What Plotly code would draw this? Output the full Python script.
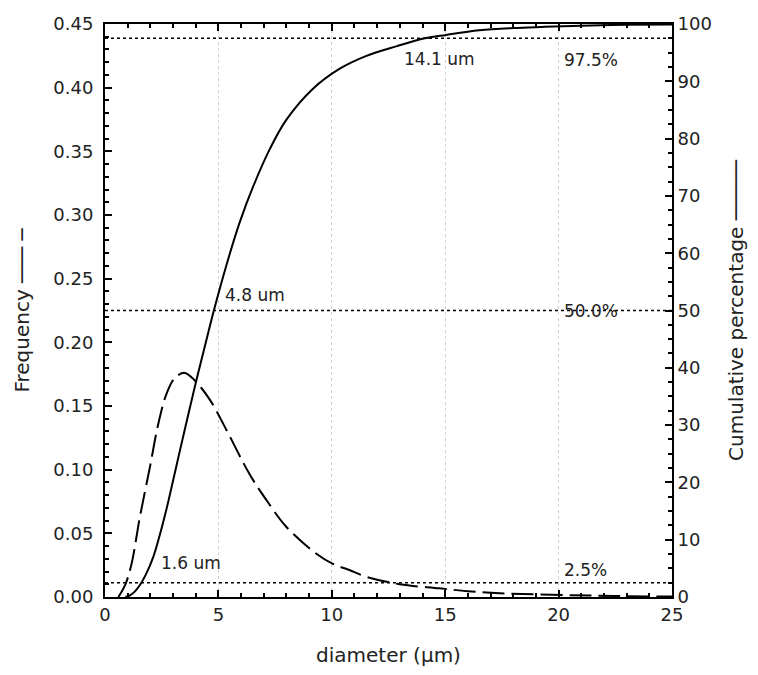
import plotly.graph_objects as go

# cumulative percentage curve (solid, right axis)
cum_x = [0.9, 1.1, 1.3, 1.54, 1.8, 2.13, 2.4, 2.72, 3.0, 3.3, 3.74, 4.04, 4.48, 4.8, 5.36, 5.95, 6.53,
         7.27, 8.0, 9.17, 10.35, 11.5, 12.84, 14.1, 15.04, 16.5, 18.0, 19.4, 21.0, 23.0, 25.0]
cum_y = [0.0, 0.3, 0.9, 2.1, 3.9, 7.0, 10.6, 15.5, 20.3, 25.5, 33.0, 38.0, 45.0, 50.0, 58.0, 65.5, 71.6,
         78.2, 83.3, 88.7, 92.2, 94.4, 96.1, 97.5, 98.1, 98.9, 99.3, 99.5, 99.7, 99.85, 99.9]

# frequency curve (dashed, left axis)
freq_x = [0.59, 0.9, 1.17, 1.54, 1.98, 2.35, 2.72, 3.08, 3.52, 3.96, 4.62, 5.36, 6.39, 7.2, 8.0, 9.32,
          10.05, 10.8, 11.5, 13.0, 14.75, 16.0, 17.4, 20.3, 22.5, 25.0]
freq_y = [0.0, 0.010, 0.026, 0.063, 0.102, 0.136, 0.160, 0.172, 0.176, 0.170, 0.155, 0.131, 0.096, 0.074,
          0.055, 0.034, 0.026, 0.021, 0.016, 0.010, 0.0068, 0.0045, 0.003, 0.0015, 0.0008, 0.0003]

# percentile reference lines (right axis)
ref_pct = [2.5, 50.0, 97.5]
ref_labels = ["2.5%", "50.0%", "97.5%"]
ref_diam_labels = ["1.6 um", "4.8 um", "14.1 um"]
ref_diam = [1.6, 4.8, 14.1]

FONT = "DejaVu Sans, Verdana, sans-serif"
TXT = "#222"

fig = go.Figure()

for p in ref_pct:
    fig.add_trace(go.Scatter(x=[0, 25], y=[p, p], mode="lines", yaxis="y2",
                             line=dict(color="black", width=1.5, dash="dot"),
                             showlegend=False, hoverinfo="skip"))

fig.add_trace(go.Scatter(x=freq_x, y=freq_y, mode="lines", line_shape="spline",
                         line=dict(color="black", width=2, dash="22px,7px"), showlegend=False))
fig.add_trace(go.Scatter(x=cum_x, y=cum_y, mode="lines", yaxis="y2", line_shape="spline",
                         line=dict(color="black", width=2), showlegend=False))

# annotations: diameter labels and percentage labels
ann_offsets_x = [0.8, 0.4, -1.0]
ann_offsets_y = [3.4, 2.7, -3.6]
for d, p, lab, dx, dy in zip(ref_diam, ref_pct, ref_diam_labels, ann_offsets_x, ann_offsets_y):
    fig.add_annotation(x=d + dx, y=p + dy, yref="y2", text=lab, showarrow=False,
                       xanchor="left", yanchor="middle", font=dict(size=17, color=TXT, family=FONT))
pct_offsets_y = [2.2, 0.0, -3.8]
for p, lab, dy in zip(ref_pct, ref_labels, pct_offsets_y):
    fig.add_annotation(x=20.15, y=p + dy, yref="y2", text=lab, showarrow=False,
                       xanchor="left", yanchor="middle", font=dict(size=17, color=TXT, family=FONT))

axis_common = dict(showline=True, linecolor="black", linewidth=2, ticks="inside", ticklen=7,
                   tickwidth=2, tickcolor="black", zeroline=False, automargin=False,
                   tickfont=dict(size=18, color=TXT, family=FONT))

fig.update_layout(
    width=758, height=675,
    margin=dict(l=105, r=86, t=24, b=78),
    plot_bgcolor="white", paper_bgcolor="white",
    font=dict(family=FONT, color=TXT),
    xaxis=dict(range=[0, 25], dtick=5, tick0=0, mirror="ticks",
               showgrid=True, gridcolor="#d0d0d0", griddash="dot", gridwidth=1,
               minor=dict(dtick=1, ticks="inside", ticklen=4, tickwidth=1.5, tickcolor="black"),
               title=dict(text="diameter (µm)", font=dict(size=20, color=TXT, family=FONT), standoff=24),
               **axis_common),
    yaxis=dict(range=[0, 0.45], dtick=0.05, tick0=0, tickformat=".2f", showgrid=False,
               ticklabelstandoff=6,
               minor=dict(dtick=0.01, ticks="inside", ticklen=4, tickwidth=1.5, tickcolor="black"),
               title=dict(text="Frequency ─── ─", font=dict(size=20, color=TXT, family=FONT), standoff=18),
               **axis_common),
    yaxis2=dict(range=[0, 100], dtick=10, tick0=0, overlaying="y", side="right", showgrid=False,
                minor=dict(dtick=2.5, ticks="inside", ticklen=4, tickwidth=1.5, tickcolor="black"),
                title=dict(text="Cumulative percentage ─────", font=dict(size=20, color=TXT, family=FONT),
                           standoff=18),
                **axis_common),
)

fig.write_html("out.html")
